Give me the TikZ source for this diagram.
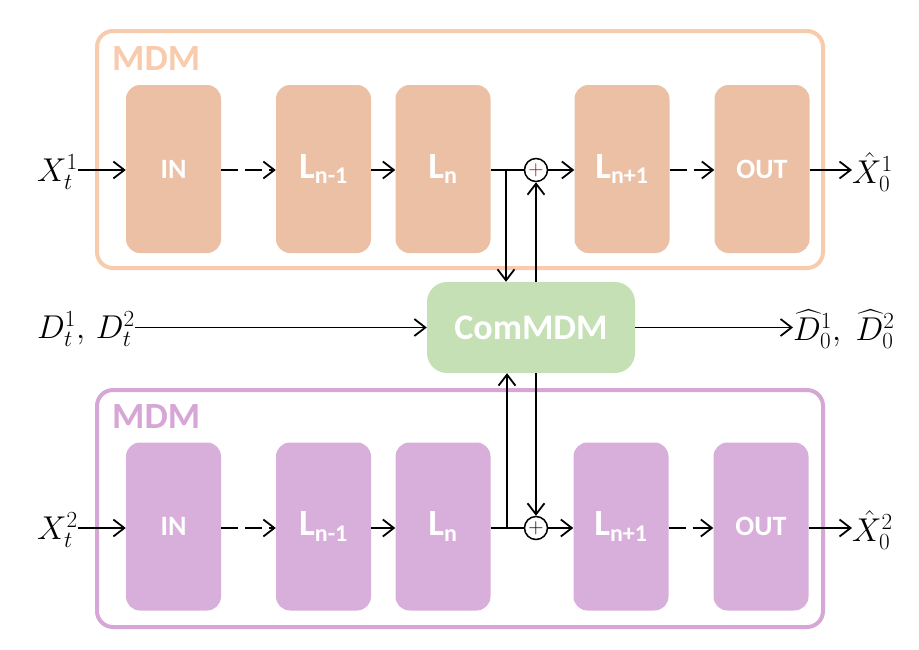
\RequirePackage{fix-cm}
\documentclass[tikz,border=0pt]{standalone}
\usepackage{amsmath}
\usepackage{fontspec}
\usetikzlibrary{arrows.meta}
\newfontfamily\calibri{Carlito}

\definecolor{peachline}{HTML}{F8CBAD}
\definecolor{peachfill}{HTML}{EBC0A5}
\definecolor{lilacline}{HTML}{D5A6D6}
\definecolor{lilacfill}{HTML}{D8AFDA}
\definecolor{comgreen}{HTML}{C5E0B4}

\tikzset{
  mdmframe/.style={line width=4pt, rounded corners=16pt},
  mdmtitle/.style={anchor=base west, inner sep=0pt, font=\calibri\bfseries\fontsize{37}{40}\selectfont},
  layerbox/.style={rounded corners=14pt, minimum width=95pt, minimum height=168pt, inner sep=0pt,
    text=white, font=\calibri\bfseries\fontsize{28}{30}\selectfont},
  sumnode/.style={circle, draw, line width=1.5pt, minimum size=23pt, inner sep=0pt, font=\fontsize{21}{21}\selectfont},
  iolabel/.style={inner sep=0pt, font=\fontsize{33}{38}\selectfont},
  flow/.style={line width=1.8pt, -{Straight Barb[length=11pt, width=17pt, line width=1.8pt]}},
  flowdash/.style={flow, dash pattern=on 17pt off 7pt},
}
\newcommand{\layertext}[1]{\fontsize{37}{40}\selectfont L\textsubscript{\fontsize{24}{26}\selectfont #1}}

\begin{document}
\begin{tikzpicture}[x=1pt, y=-1pt]
    \useasboundingbox (0,0) rectangle (919,649);

    % Upper MDM frame
    \draw[mdmframe, draw=peachline] (97,31) rectangle (823,268);
    \node[mdmtitle, text=peachline] (mdmtop) at (112,70) {MDM};

    % Lower MDM frame
    \draw[mdmframe, draw=lilacline] (97,390) rectangle (823,627);
    \node[mdmtitle, text=lilacline] (mdmbot) at (112,428) {MDM};

    % Upper layers
    \node[layerbox, fill=peachfill] (in1)  at (173.5,169) {IN};
    \node[layerbox, fill=peachfill] (lm1)  at (323.5,169) {\layertext{n-1}};
    \node[layerbox, fill=peachfill] (ln1)  at (443,169)   {\layertext{n}};
    \node[layerbox, fill=peachfill] (lp1)  at (622,169)   {\layertext{n+1}};
    \node[layerbox, fill=peachfill] (out1) at (762,169)   {OUT};
    \node[sumnode] (sum1) at (536,170) {\textcolor{red!60!black}{+}};

    % Lower layers
    \node[layerbox, fill=lilacfill] (in2)  at (173.5,526.5) {IN};
    \node[layerbox, fill=lilacfill] (lm2)  at (323.5,526.5) {\layertext{n-1}};
    \node[layerbox, fill=lilacfill] (ln2)  at (443,526.5)   {\layertext{n}};
    \node[layerbox, fill=lilacfill] (lp2)  at (621,526.5)   {\layertext{n+1}};
    \node[layerbox, fill=lilacfill] (out2) at (761,526.5)   {OUT};
    \node[sumnode] (sum2) at (536,528) {+};

    % Shared module
    \node[rounded corners=20pt, fill=comgreen, minimum width=208pt, minimum height=91pt, inner sep=0pt,
      text=white, font=\calibri\bfseries\fontsize{36}{40}\selectfont] (com) at (531,327.5) {ComMDM};

    % Inputs and outputs
    \node[iolabel, anchor=west] (xt1) at (37,172) {$X_t^1$};
    \node[iolabel, anchor=west] (xt2) at (37,530) {$X_t^2$};
    \node[iolabel, anchor=west] (dt)  at (37,329) {$D_t^1,\, D_t^2$};
    \node[iolabel, anchor=west] (xh1) at (852,172) {$\hat{X}_0^1$};
    \node[iolabel, anchor=west] (xh2) at (852,530) {$\hat{X}_0^2$};
    \node[iolabel, anchor=west] (dh)  at (793,329) {$\widehat{D}_0^1,\; \widehat{D}_0^2$};

    \coordinate (j1) at (506,170);
    \coordinate (j2) at (507,528);

    % Upper chain
    \draw[flow] (xt1.east |- sum1) -- (in1.west |- sum1);
    \draw[flowdash] (in1.east |- sum1) -- (lm1.west |- sum1);
    \draw[flow] (lm1.east |- sum1) -- (ln1.west |- sum1);
    \draw[line width=1.8pt] (ln1.east |- sum1) -- (sum1);
    \draw[flow] (sum1) -- (lp1.west |- sum1);
    \draw[flowdash] (lp1.east |- sum1) -- (out1.west |- sum1);
    \draw[flow] (out1.east |- sum1) -- (xh1.west |- sum1);

    % Lower chain
    \draw[flow] (xt2.east |- sum2) -- (in2.west |- sum2);
    \draw[flowdash] (in2.east |- sum2) -- (lm2.west |- sum2);
    \draw[flow] (lm2.east |- sum2) -- (ln2.west |- sum2);
    \draw[line width=1.8pt] (ln2.east |- sum2) -- (sum2);
    \draw[flow] (sum2) -- (lp2.west |- sum2);
    \draw[flowdash] (lp2.east |- sum2) -- (out2.west |- sum2);
    \draw[flow] (out2.east |- sum2) -- (xh2.west |- sum2);

    % Links to ComMDM
    \draw[flow] (j1) -- (j1 |- com.north);
    \draw[flow] (com.north -| sum1) -- (sum1);
    \draw[flow] (j2) -- (j2 |- com.south);
    \draw[flow] (com.south -| sum2) -- (sum2);
    \draw[flow] (dt.east |- com) -- (com);
    \draw[flow] (com) -- (dh.west |- com);

\end{tikzpicture}
\end{document}
